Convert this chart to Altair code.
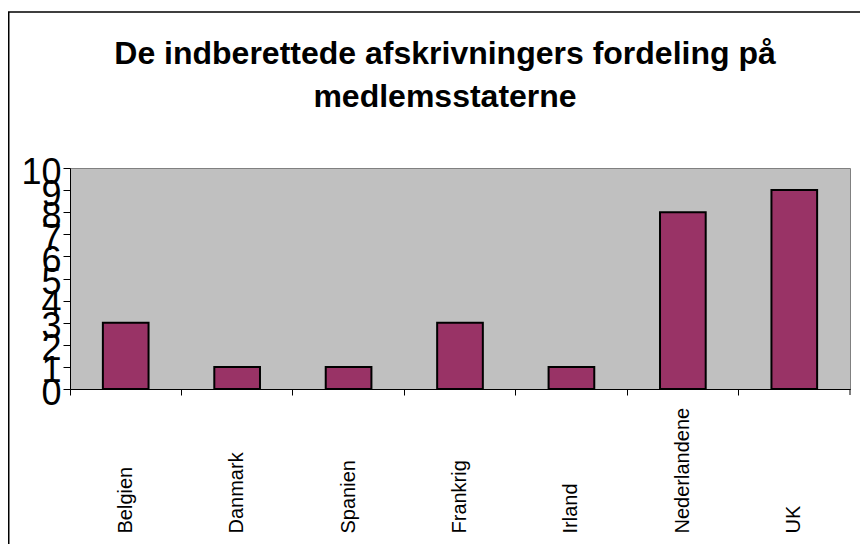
import altair as alt
import pandas as pd

countries = ["Belgien", "Danmark", "Spanien", "Frankrig", "Irland", "Nederlandene", "UK"]
values = [3, 1, 1, 3, 1, 8, 9]
y_ticks = list(range(0, 11))
title_lines = ["De indberettede afskrivningers fordeling på", "medlemsstaterne"]

df = pd.DataFrame({"land": countries, "antal": values})
one = pd.DataFrame({"k": [0]})

FONT = "Liberation Sans"
W, H = 780, 221
PAD_L, PAD_T = 62, 160

xscale = alt.Scale(domain=countries, paddingInner=0, paddingOuter=0)
yscale = alt.Scale(domain=[0, 10], nice=False, zero=True)

bars = alt.Chart(df).mark_bar(
    width={"band": 0.41}, fill="#993366", stroke="black", strokeWidth=2
).encode(
    x=alt.X("land:N", sort=countries, scale=xscale,
            axis=alt.Axis(orient="bottom", title=None, labels=False, ticks=True,
                          tickSize=6, tickColor="black", domainColor="black",
                          bandPosition=0, grid=False)),
    y=alt.Y("antal:Q", scale=yscale,
            axis=alt.Axis(title=None, values=y_ticks, tickSize=7, tickColor="black",
                          domainColor="black", labelFont=FONT, labelFontSize=36,
                          labelColor="black", labelPadding=2, labelOverlap=False,
                          labelFlush=False, labelOffset=4, grid=False)),
)

labels = alt.Chart(df).mark_point(opacity=0).encode(
    x=alt.X("land:N", sort=countries, scale=xscale,
            axis=alt.Axis(orient="bottom", title=None, ticks=False, domain=False,
                          labelAngle=270, labelAlign="left", labelBaseline="middle",
                          labelPadding=144, labelFont=FONT, labelFontSize=20,
                          labelColor="black", labelOverlap=False, labelLimit=0,
                          grid=False)),
)

end_tick = alt.Chart(one).mark_rule(color="black", strokeWidth=1).encode(
    x=alt.value(W), y=alt.value(H), y2=alt.value(H + 6)
)

border = alt.Chart(one).mark_rect(
    fill="white", fillOpacity=0, stroke="black", strokeWidth=1.5
).encode(x=alt.value(-61.25), x2=alt.value(900), y=alt.value(-156), y2=alt.value(500))

title = alt.Chart(one).mark_text(
    text=title_lines, font=FONT, fontSize=32, fontWeight="bold", lineHeight=43,
    align="center", baseline="alphabetic", color="black"
).encode(x=alt.value(375), y=alt.value(-104))

chart = alt.layer(border, bars, labels, end_tick, title).resolve_axis(
    x="independent"
).properties(
    width=W, height=H, background="white",
    autosize=alt.AutoSizeParams(type="none"),
    padding={"left": PAD_L, "top": PAD_T, "right": 852 - PAD_L - W, "bottom": 536 - PAD_T - H},
).configure_view(fill="#C0C0C0", stroke="#808080", strokeWidth=1)

chart.save("out.html", embed_options={"renderer": "svg", "actions": False})
